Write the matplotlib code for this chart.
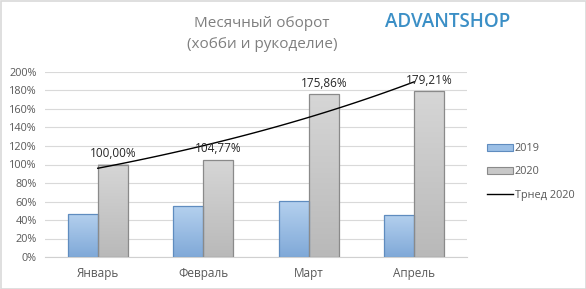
import numpy as np
import matplotlib
matplotlib.use("Agg")
import matplotlib.pyplot as plt
from matplotlib.patches import Rectangle
from matplotlib.lines import Line2D
from matplotlib.ticker import FuncFormatter
from matplotlib.colors import LinearSegmentedColormap

plt.rcParams['font.family'] = ['Open Sans', 'DejaVu Sans']

categories = ["Январь", "Февраль", "Март", "Апрель"]
values_2019 = [47, 55, 60.5, 45.5]
values_2020 = [100.00, 104.77, 175.86, 179.21]
labels_2020 = ["100,00%", "104,77%", "175,86%", "179,21%"]
series_names = ["2019", "2020", "Трнед 2020"]
title = "Месячный оборот\n(хобби и рукоделие)"
brand = "ADVANTSHOP"

fig = plt.figure(figsize=(5.86, 2.89), dpi=100)
fig.patch.set_facecolor("white")
ax = fig.add_axes([45/586, 1-257/289, 422/586, 185/289])

x = np.arange(len(categories))
w = 0.285

def grad_bar(ax, x0, h, width, top, bottom, edge):
    grad = np.linspace(0, 1, 64).reshape(-1, 1)
    cmap = LinearSegmentedColormap.from_list("g", [bottom, top])
    im = ax.imshow(grad, cmap=cmap, origin="lower", aspect="auto",
                   extent=[x0, x0 + width, 0, h], zorder=2, vmin=0, vmax=1)
    r = Rectangle((x0, 0), width, h, facecolor="none", edgecolor=edge, lw=0.9, zorder=3)
    ax.add_patch(r)
    im.set_clip_path(r)

for i in range(len(categories)):
    grad_bar(ax, x[i] - w, values_2019[i], w, "#b4d0ee", "#80a9d8", "#5f8cbf")
    grad_bar(ax, x[i], values_2020[i], w, "#d6d6d6", "#b9b9b9", "#8a8a8a")
    ax.text(x[i] + w/2, values_2020[i] + 5, labels_2020[i], ha="center", va="bottom",
            fontsize=8.5, color="#262626", zorder=5)

# exponential trend fitted to 2020 values
xi = x + 1
coef = np.polyfit(xi, np.log(values_2020), 1)
xs = np.linspace(1, len(categories), 100)
ys = np.exp(np.polyval(coef, xs))
ax.plot(xs - 1, ys, color="black", lw=1.0, zorder=4)

ax.set_xlim(-0.5, 3.5)
ax.set_ylim(0, 200)
ax.set_yticks(np.arange(0, 201, 20))
ax.yaxis.set_major_formatter(FuncFormatter(lambda v, p: f"{int(v)}%"))
ax.set_xticks(x)
ax.set_xticklabels(categories)
ax.grid(axis="y", color="#d9d9d9", lw=0.8, zorder=0)
ax.set_axisbelow(True)
for s in ["top", "right", "left"]:
    ax.spines[s].set_visible(False)
ax.spines["bottom"].set_color("#d0d0d0")
ax.tick_params(axis="both", length=0, labelsize=7.8, colors="#595959")
ax.tick_params(axis="x", pad=7, labelsize=8.5)
ax.tick_params(axis="y", pad=6)

handles = [Rectangle((0, 0), 1, 1, facecolor="#9bbfe6", edgecolor="#5f8cbf", lw=0.8),
           Rectangle((0, 0), 1, 1, facecolor="#c8c8c8", edgecolor="#8a8a8a", lw=0.8),
           Line2D([0], [0], color="black", lw=1.0)]
leg = fig.legend(handles, series_names, loc="center left", bbox_to_anchor=(483/586, 1-172/289),
                 frameon=False, fontsize=7.8, labelcolor="#595959", handlelength=2.4,
                 handleheight=0.6, handletextpad=0.15, labelspacing=1.15, borderaxespad=0)

fig.text(262/586, 1-34/289, title, ha="center", va="center", fontsize=11,
         color="#7f7f7f", linespacing=1.6)
fig.text(448/586, 1-22/289, brand, ha="center", va="center", fontsize=13.5,
         color="#3b8fc6", fontweight="semibold", fontstretch="condensed")

fig.add_artist(Rectangle((0.5/586, 0.5/289), 1-1/586, 1-1/289, transform=fig.transFigure,
                         facecolor="none", edgecolor="#d9d9d9", lw=1.2))

fig.savefig("out.png", dpi=100, facecolor="white")
